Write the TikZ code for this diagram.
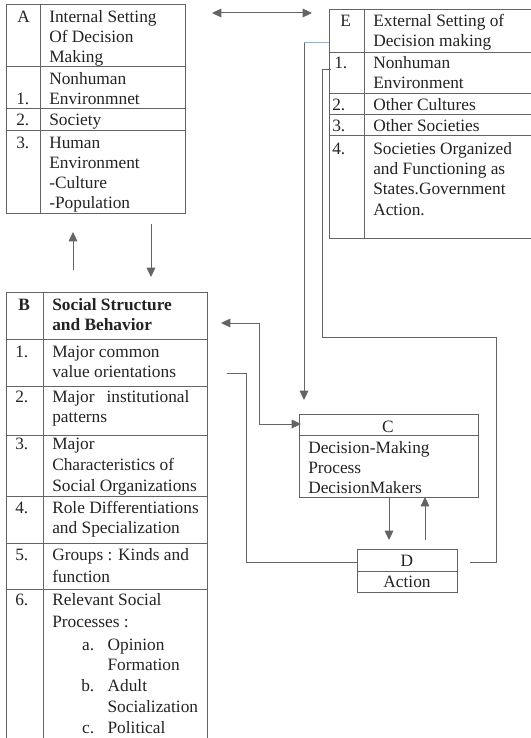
\documentclass[tikz,border=0pt]{standalone}
\usepackage{fontspec}
\setmainfont{Liberation Serif}
\usetikzlibrary{arrows.meta,positioning,fit}
\definecolor{linegray}{RGB}{100,100,100}
\definecolor{inkgray}{RGB}{35,35,35}
\definecolor{hintblue}{RGB}{140,178,218}
\tikzset{
  frame/.style={draw=linegray, line width=0.75pt, inner sep=0pt, fit={#1}},
  cell/.style={anchor=base west, inner sep=0pt, text=inkgray},
  midcell/.style={anchor=base, inner sep=0pt, align=center, text=inkgray},
  wire/.style={draw=linegray, line width=0.75pt},
}
% lines of a cell, first baseline on the node's base
\newcommand{\cellrows}[1]{\begin{tabular}[t]{@{}l@{}}#1\end{tabular}}

\begin{document}
\begin{tikzpicture}[x=0.75pt, y=-0.75pt, font=\fontsize{13}{15}\selectfont,
    >={Triangle[length=7pt,width=6.5pt]}]
  \useasboundingbox (0,0) rectangle (531,738);

  % A: internal setting
  \node[frame={(6,5) (185,213)}] (A) {};
  \draw[wire] (40,5) -- (40,213);
  \foreach \y in {67,109,131} \draw[wire] (6,\y) -- (185,\y);
  \node[cell] (a-key) at (17,23) {A};
  \node[cell] (a-head) at (49,23) {\cellrows{Internal Setting\\Of Decision\\Making}};
  \node[cell] (a-n1) at (16,105) {1.};
  \node[cell] (a-t1) at (49,85) {\cellrows{Nonhuman\\Environmnet}};
  \node[cell] (a-n2) at (16,126) {2.};
  \node[cell] (a-t2) at (49,126) {Society};
  \node[cell] (a-n3) at (16,148) {3.};
  \node[cell] (a-t3) at (49,148) {\cellrows{Human\\Environment\\-Culture\\-Population}};

  % B: social structure
  \node[frame={(6,292) (207,745)}] (B) {};
  \draw[wire] (43,292) -- (43,745);
  \foreach \y in {339,386,435,496,543,589} \draw[wire] (6,\y) -- (207,\y);
  \node[cell, font=\fontsize{13}{15}\selectfont\bfseries] (b-key) at (18,310) {B};
  \node[cell, font=\fontsize{13}{15}\selectfont\bfseries] (b-head) at (52,310) {\cellrows{Social Structure\\and Behavior}};
  \node[cell] (b-n1) at (15,357) {1.};
  \node[cell] (b-t1) at (52,357) {\cellrows{Major common\\value orientations}};
  \node[cell] (b-n2) at (15,402) {2.};
  \node[cell] (b-t2) at (52,402) {\cellrows{Major\hspace{9pt}institutional\\patterns}};
  \node[cell] (b-n3) at (15,449) {3.};
  \node[cell] (b-t3) at (52,449) {\cellrows{Major\\[1pt]Characteristics of\\[1pt]Social Organizations}};
  \node[cell] (b-n4) at (15,513) {4.};
  \node[cell] (b-t4) at (52,513) {\cellrows{Role Differentiations\\and Specialization}};
  \node[cell] (b-n5) at (15,560) {5.};
  \node[cell] (b-t5) at (52,560) {\cellrows{Groups : Kinds and\\[2pt]function}};
  \node[cell] (b-n6) at (15,605) {6.};
  \node[cell] (b-t6) at (52,605) {\cellrows{Relevant Social\\[1.5pt]Processes :}};
  \node[cell] (b-sub) at (81,650) {\renewcommand{\arraystretch}{1.04}%
    \begin{tabular}[t]{@{}r@{\hspace{10pt}}l@{}}
      a. & Opinion\\ & Formation\\ b. & Adult\\ & Socialization\\ c. & Political
    \end{tabular}};

  % E: external setting
  \node[frame={(329,10) (535,238)}] (E) {};
  \draw[wire] (364,10) -- (364,238);
  \foreach \y in {53,94,115,136} \draw[wire] (329,\y) -- (535,\y);
  \node[cell] (e-key) at (340,27) {E};
  \node[cell] (e-head) at (373,27) {\cellrows{External Setting of\\Decision making}};
  \node[cell] (e-n1) at (334,69) {1.};
  \node[cell] (e-t1) at (373,69) {\cellrows{Nonhuman\\Environment}};
  \node[cell] (e-n2) at (332,111) {2.};
  \node[cell] (e-t2) at (373,111) {Other Cultures};
  \node[cell] (e-n3) at (332,132) {3.};
  \node[cell] (e-t3) at (373,132) {Other Societies};
  \node[cell] (e-n4) at (332,155) {4.};
  \node[cell] (e-t4) at (373,155) {\cellrows{Societies Organized\\and Functioning as\\States.Government\\Action.}};

  % C: decision making
  \node[frame={(299,414) (478,497)}] (C) {};
  \draw[wire] (299,435) -- (478,435);
  \node[midcell] (c-key) at (388,432) {C};
  \node[cell] (c-body) at (308,453) {\cellrows{Decision-Making\\Process\\DecisionMakers}};

  % D: action
  \node[frame={(357,549) (457,592)}] (D) {};
  \draw[wire] (357,571) -- (457,571);
  \node[midcell] (d-key) at (407,566) {D};
  \node[midcell] (d-body) at (407,587) {Action};

  % connector ends
  \coordinate (ae-l) at (212,13);
  \coordinate (ae-r) at (312,13);
  \coordinate (ba-s) at (73,270);
  \coordinate (ba-e) at (73,232);
  \coordinate (ab-s) at (151,224);
  \coordinate (ab-e) at (151,277);
  \coordinate (cb-b) at (221,323);
  \coordinate (cb-k) at (259,323);
  \coordinate (cb-c) at (301,424);
  \coordinate (ec-s) at (329,43);
  \coordinate (ec-k) at (304,43);
  \coordinate (ec-e) at (304,400);
  \coordinate (ed-s) at (331,70);
  \coordinate (ed-k) at (322,70);
  \coordinate (ed-k2) at (496,337);
  \coordinate (ed-e) at (470,562);
  \coordinate (bd-s) at (227,373);
  \coordinate (bd-k) at (246,373);
  \coordinate (bd-e) at (357,562);
  \coordinate (cd-s) at (389,497);
  \coordinate (cd-e) at (389,540);
  \coordinate (dc-s) at (425,540);
  \coordinate (dc-e) at (425,497);

  % connectors
  \draw[wire, <->] (ae-l) -- (ae-r);
  \draw[wire, ->] (ba-s) -- (ba-e);
  \draw[wire, ->] (ab-s) -- (ab-e);
  \draw[wire, <->] (cb-b) -- (cb-k) |- (cb-c);
  \draw[hintblue, line width=0.75pt] (ec-s) -- (ec-k);
  \draw[wire, ->] (ec-k) -- (ec-e);
  \draw[wire] (ed-s) -- (ed-k) |- (ed-k2) |- (ed-e);
  \draw[wire] (bd-s) -- (bd-k) |- (bd-e);
  \draw[wire, ->] (cd-s) -- (cd-e);
  \draw[wire, ->] (dc-s) -- (dc-e);
\end{tikzpicture}
\end{document}
